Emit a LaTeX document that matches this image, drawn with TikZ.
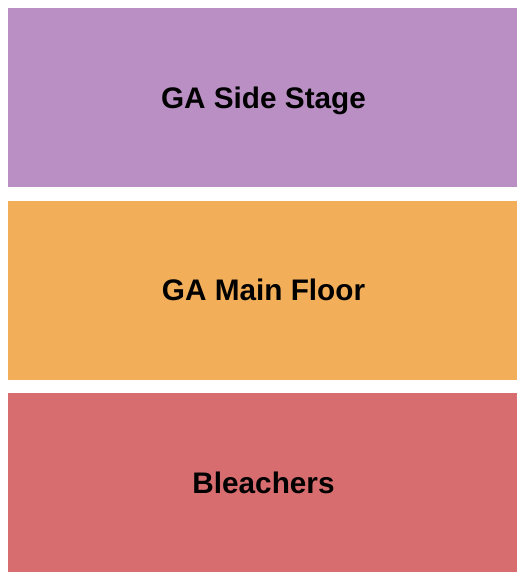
\documentclass[tikz,border=0pt]{standalone}
\usepackage{fontspec}
\setmainfont{Liberation Sans}
\definecolor{sidec}{HTML}{BA90C4}
\definecolor{mainc}{HTML}{F2AE59}
\definecolor{bleac}{HTML}{D76D6E}
\begin{document}
\begin{tikzpicture}[x=0.75pt,y=-0.75pt,
  sect/.style={inner sep=0pt,font=\fontsize{22.3}{26}\selectfont\bfseries,text=black}]
\useasboundingbox (0,0) rectangle (525,580);
\fill[sidec] (8,8) rectangle (517,187);
\fill[mainc] (8,201) rectangle (517,380);
\fill[bleac] (8,393) rectangle (517,572);
\node[sect] (side) at (263.5,101) {GA Side Stage};
\node[sect] (main) at (263.5,290) {GA Main Floor};
\node[sect] (blea) at (263.5,483) {Bleachers};
\end{tikzpicture}
\end{document}
